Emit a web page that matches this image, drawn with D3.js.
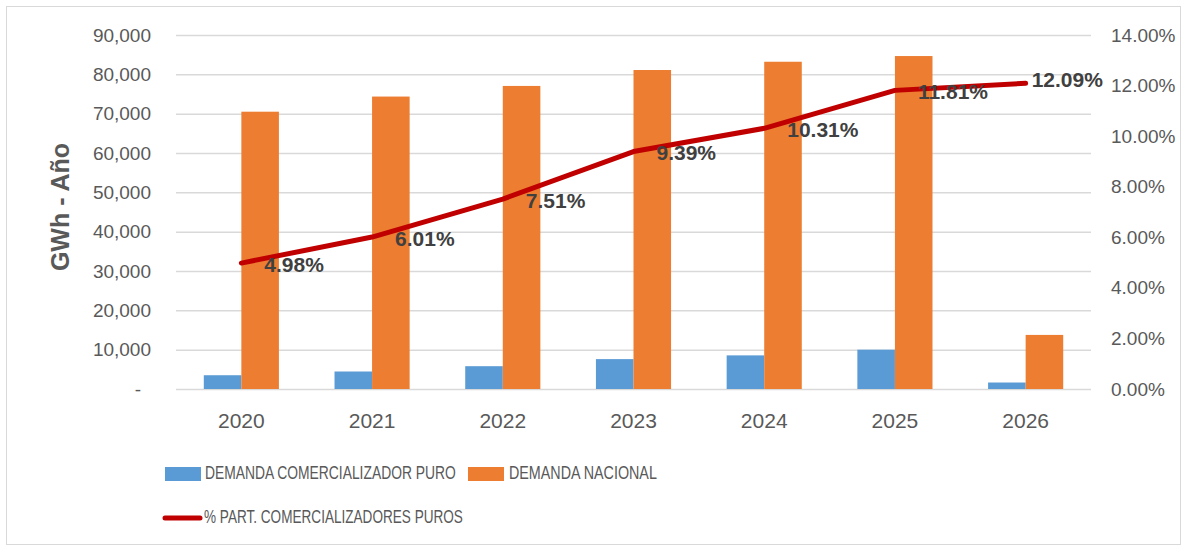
<!DOCTYPE html>
<html>
<head>
<meta charset="utf-8">
<script src="https://cdn.jsdelivr.net/npm/d3@7"></script>
<style>
  body { margin: 0; background: #fff; }
  svg { display: block; font-family: "Liberation Sans", Arial, sans-serif; }
</style>
</head>
<body>
<div id="chart"></div>
<script>
// Chart data
var years = ["2020", "2021", "2022", "2023", "2024", "2025", "2026"];
var demandaComercializador = [3500, 4450, 5800, 7600, 8550, 10000, 1650];
var demandaNacional = [70500, 74350, 77050, 81100, 83200, 84650, 13750];
var partComercializadores = [4.98, 6.01, 7.51, 9.39, 10.31, 11.81, 12.09];
var leftTicks = [0, 10000, 20000, 30000, 40000, 50000, 60000, 70000, 80000, 90000];
var rightTicks = [0, 2, 4, 6, 8, 10, 12, 14];
var seriesNames = ["DEMANDA COMERCIALIZADOR PURO", "DEMANDA NACIONAL", "% PART. COMERCIALIZADORES PUROS"];

var svgWidth = 1187;
var svgHeight = 550;

// plot area in page pixels
var plot = { left: 176, right: 1091, top: 35, bottom: 389 };

var colorBlue = "#5B9BD5";
var colorOrange = "#ED7D31";
var colorLine = "#C00000";
var textGray = "#595959";

var svg = d3.select("#chart")
  .append("svg")
  .attr("width", svgWidth)
  .attr("height", svgHeight);

// outer chart border
svg.append("rect")
  .attr("x", 6.5)
  .attr("y", 6.5)
  .attr("width", 1174)
  .attr("height", 538)
  .attr("fill", "none")
  .attr("stroke", "#d9d9d9")
  .attr("stroke-width", 1);

// scales
var x = d3.scaleBand()
  .domain(years)
  .range([plot.left, plot.right])
  .padding(0);

var x1 = d3.scaleBand()
  .domain(["com", "nac"])
  .range([0, x.bandwidth()])
  .paddingInner(0)
  .paddingOuter(0.74);

var yLeft = d3.scaleLinear()
  .domain([0, 90000])
  .range([plot.bottom, plot.top]);

var yRight = d3.scaleLinear()
  .domain([0, 14])
  .range([plot.bottom, plot.top]);

// gridlines
var grid = svg.append("g")
  .attr("transform", `translate(${plot.left},0)`)
  .call(d3.axisLeft(yLeft).tickValues(leftTicks).tickSize(-(plot.right - plot.left)).tickFormat(""));
grid.select(".domain").remove();
grid.selectAll("line").attr("stroke", "#d9d9d9").attr("stroke-width", 1.5);

// left axis
var fmt = d3.format(",");
var leftAxis = svg.append("g")
  .attr("transform", `translate(${plot.left},0)`)
  .call(d3.axisLeft(yLeft).tickValues(leftTicks).tickSize(0).tickPadding(25)
    .tickFormat(d => d === 0 ? "-" : fmt(d)));
leftAxis.select(".domain").remove();
leftAxis.selectAll("text")
  .attr("fill", textGray)
  .style("font-size", "19px")
  .attr("dx", d => d === 0 ? -10 : 0);

// right axis
var rightAxis = svg.append("g")
  .attr("transform", `translate(${plot.right},0)`)
  .call(d3.axisRight(yRight).tickValues(rightTicks).tickSize(0).tickPadding(20)
    .tickFormat(d => d.toFixed(2) + "%"));
rightAxis.select(".domain").remove();
rightAxis.selectAll("text")
  .attr("fill", textGray)
  .style("font-size", "19px");

// bottom axis
var bottomAxis = svg.append("g")
  .attr("transform", `translate(0,${plot.bottom})`)
  .call(d3.axisBottom(x).tickSize(0).tickPadding(24));
bottomAxis.select(".domain").remove();
bottomAxis.selectAll("text")
  .attr("fill", textGray)
  .style("font-size", "21px");

// bars
var barGroups = svg.append("g")
  .selectAll("g")
  .data(years)
  .enter()
  .append("g")
  .attr("transform", d => `translate(${x(d)},0)`);

barGroups.append("rect")
  .attr("x", x1("com"))
  .attr("y", (d, i) => yLeft(demandaComercializador[i]))
  .attr("width", x1.bandwidth())
  .attr("height", (d, i) => yLeft(0) - yLeft(demandaComercializador[i]))
  .attr("fill", colorBlue);

barGroups.append("rect")
  .attr("x", x1("nac"))
  .attr("y", (d, i) => yLeft(demandaNacional[i]))
  .attr("width", x1.bandwidth())
  .attr("height", (d, i) => yLeft(0) - yLeft(demandaNacional[i]))
  .attr("fill", colorOrange);

// line on the right axis
var cx = d => x(d) + x.bandwidth() / 2;
var line = d3.line()
  .x((d, i) => cx(years[i]))
  .y(d => yRight(d));

svg.append("path")
  .datum(partComercializadores)
  .attr("d", line)
  .attr("fill", "none")
  .attr("stroke", colorLine)
  .attr("stroke-width", 5)
  .attr("stroke-linecap", "round")
  .attr("stroke-linejoin", "round");

// data labels
var last = partComercializadores.length - 1;
svg.append("g")
  .selectAll("text")
  .data(partComercializadores)
  .enter()
  .append("text")
  .attr("x", (d, i) => cx(years[i]) + (i === last ? 6 : 23))
  .attr("y", (d, i) => yRight(d) + (i === last ? -2 : 3))
  .attr("dominant-baseline", "middle")
  .attr("fill", "#404040")
  .style("font-size", "21px")
  .style("font-weight", "bold")
  .text(d => d.toFixed(2) + "%");

// y axis title
svg.append("text")
  .attr("transform", "translate(69,207) rotate(-90)")
  .attr("text-anchor", "middle")
  .attr("fill", textGray)
  .style("font-size", "25px")
  .style("font-weight", "bold")
  .text("GWh - Año");

// legend (text squeezed horizontally to the narrow widths of the original font)
var legend = svg.append("g");

function legendText(xPos, yPos, label, width) {
  var g = legend.append("g");
  var t = g.append("text")
    .attr("x", 0).attr("y", 0)
    .attr("dominant-baseline", "middle")
    .attr("fill", textGray)
    .style("font-size", "18px")
    .text(label);
  var sx = width / t.node().getComputedTextLength();
  g.attr("transform", `translate(${xPos},${yPos}) scale(${sx},1)`);
}

legend.append("rect")
  .attr("x", 165).attr("y", 467).attr("width", 36).attr("height", 14)
  .attr("fill", colorBlue);
legendText(205, 474, seriesNames[0], 251);

legend.append("rect")
  .attr("x", 468).attr("y", 467).attr("width", 36).attr("height", 14)
  .attr("fill", colorOrange);
legendText(509, 474, seriesNames[1], 148);

legend.append("line")
  .attr("x1", 165).attr("x2", 200).attr("y1", 518).attr("y2", 518)
  .attr("stroke", colorLine)
  .attr("stroke-width", 5)
  .attr("stroke-linecap", "round");
legendText(204, 518, seriesNames[2], 259);
</script>
</body>
</html>
